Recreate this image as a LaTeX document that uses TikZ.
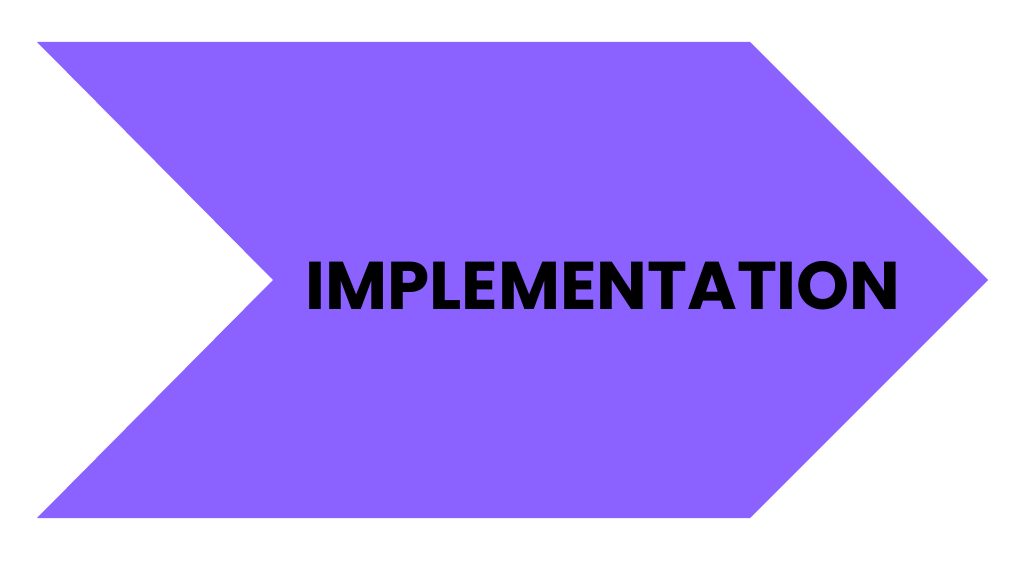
\documentclass[tikz,border=0pt]{standalone}
\usepackage{fontspec}
\setmainfont{Poppins}
\definecolor{chevpurple}{HTML}{8B61FF}
\begin{document}
\begin{tikzpicture}[x=0.01cm,y=-0.01cm]
    \useasboundingbox (0,0) rectangle (1024,576);
    \coordinate (TL) at (37,42);
    \coordinate (TR) at (750,42);
    \coordinate (R) at (988,280);
    \coordinate (BR) at (750,518);
    \coordinate (BL) at (37,518);
    \coordinate (N) at (273,280);
    \fill[chevpurple] (TL) -- (TR) -- (R) -- (BR) -- (BL) -- (N) -- cycle;
    \node[font=\fontsize{19.2}{24}\bfseries, text=black, inner sep=0pt, anchor=base] (label) at (603,310) {IMPLEMENTATION};
\end{tikzpicture}
\end{document}
